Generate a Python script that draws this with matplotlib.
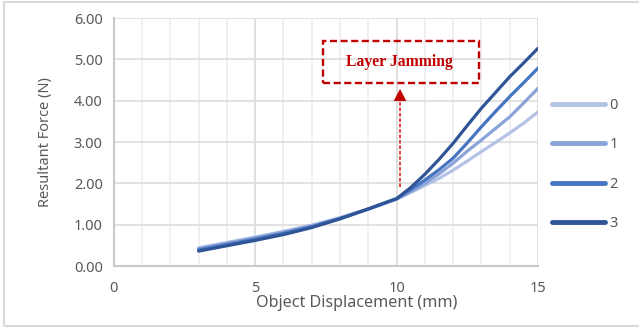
import matplotlib.pyplot as plt
from matplotlib.patches import Rectangle

plt.rcParams['font.family'] = ['Noto Sans', 'DejaVu Sans']

# displacement (mm) and resultant force (N) for each layer count
x = [3, 4, 5, 6, 7, 8, 9, 9.5, 10, 10.5, 11, 11.5, 12, 12.5, 13, 13.5, 14, 14.5, 15]
force_0 = [0.44, 0.57, 0.70, 0.84, 0.99, 1.17, 1.38, 1.50, 1.62, 1.78, 1.95, 2.12, 2.32, 2.54, 2.77, 2.99, 3.22, 3.46, 3.73]
force_1 = [0.42, 0.55, 0.68, 0.82, 0.97, 1.16, 1.38, 1.50, 1.62, 1.80, 2.00, 2.23, 2.49, 2.78, 3.05, 3.33, 3.61, 3.95, 4.30]
force_2 = [0.39, 0.52, 0.65, 0.79, 0.95, 1.15, 1.38, 1.50, 1.63, 1.85, 2.08, 2.33, 2.61, 2.98, 3.37, 3.74, 4.10, 4.44, 4.79]
force_3 = [0.36, 0.49, 0.62, 0.76, 0.93, 1.14, 1.38, 1.51, 1.63, 1.90, 2.22, 2.58, 2.97, 3.40, 3.82, 4.20, 4.58, 4.92, 5.27]
labels = ['0', '1', '2', '3']
colors = ['#b4c3e5', '#8aa3d8', '#4775c2', '#2f5597']

grey = '#595959'

fig = plt.figure(figsize=(6.39, 3.28), dpi=100)
ax = fig.add_axes([0.178, 0.189, 0.664, 0.756])

for ys, lab, c in zip([force_0, force_1, force_2, force_3], labels, colors):
    ax.plot(x, ys, color=c, linewidth=2.3, label=lab, solid_capstyle='round')

ax.set_xlim(0, 15)
ax.set_ylim(0, 6)
ax.set_xticks([0, 5, 10, 15])
ax.set_xticks(range(0, 16), minor=True)
ax.set_yticks([0, 1, 2, 3, 4, 5, 6])
ax.set_yticklabels([f'{v:.2f}' for v in range(7)])
ax.grid(True, which='minor', axis='x', color='#eeeeee', linewidth=1.2)
ax.grid(True, which='major', axis='x', color='#d9d9d9', linewidth=1.2)
ax.grid(True, which='major', axis='y', color='#dddddd', linewidth=1.2)
ax.set_axisbelow(True)
ax.tick_params(which='both', length=0, colors=grey, labelsize=10.5)
ax.tick_params(axis='x', pad=11)
ax.tick_params(axis='y', pad=8)
for s in ['top', 'right']:
    ax.spines[s].set_visible(False)
for s in ['left', 'bottom']:
    ax.spines[s].set_color('#c8c8c8')
    ax.spines[s].set_linewidth(1.5)

ax.set_xlabel('Object Displacement (mm)', color=grey, fontsize=11.6)
ax.xaxis.set_label_coords(0.573, -0.115)
ax.set_ylabel('Resultant Force (N)', color=grey, fontsize=10.5, labelpad=15)

leg = ax.legend(loc='upper left', bbox_to_anchor=(1.02, 0.70), frameon=False,
                fontsize=10.5, handlelength=3.6, labelspacing=1.66, handletextpad=0.3,
                borderaxespad=0)
for t in leg.get_texts():
    t.set_color(grey)
for h in leg.get_lines():
    h.set_linewidth(3.5)

# annotation box and arrow
red = '#c00000'
box_x0, box_x1 = 7.39, 12.91
box_y0, box_y1 = 4.43, 5.44
ax.add_patch(Rectangle((box_x0, box_y0), box_x1 - box_x0, box_y1 - box_y0, fill=False,
                       edgecolor=red, linewidth=1.7, linestyle=(0, (3, 1.5))))
ax.text(10.1, 4.93, 'Layer Jamming', color=red, fontsize=11.3, fontweight='bold',
        family='Liberation Serif', ha='center', va='center')
arrow_x = 10.12
ax.plot([arrow_x, arrow_x], [1.9, 4.1], color='#e03030', linewidth=1.3, linestyle=(0, (2, 1)))
ax.annotate('', xy=(arrow_x, 4.35), xytext=(arrow_x, 3.9),
            arrowprops=dict(arrowstyle='-|>,head_length=0.85,head_width=0.45',
                            color=red, linewidth=0.1))

fig.add_artist(Rectangle((0.006, 0.006), 1.2, 0.988, transform=fig.transFigure, fill=False,
                         edgecolor='#d9d9d9', linewidth=1.5))

fig.savefig('out.png', dpi=100)
